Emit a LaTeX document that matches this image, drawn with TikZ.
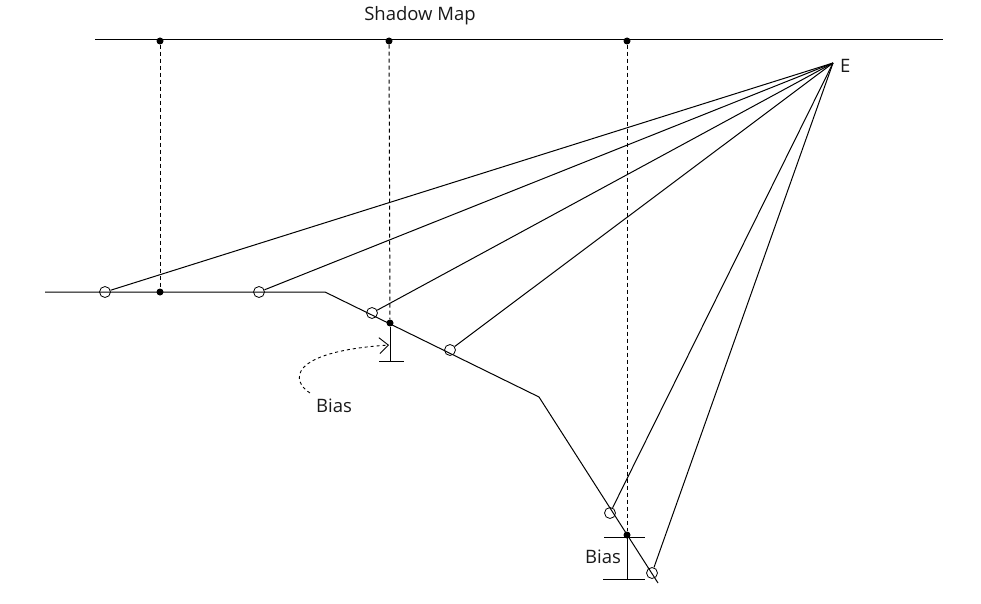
\documentclass[tikz,border=0pt]{standalone}
\usepackage{fontspec}
\setmainfont{Open Sans}
\usetikzlibrary{arrows.meta}
\begin{document}
\begin{tikzpicture}[x=1pt,y=-1pt,
  ln/.style={line width=1pt,black},
  dsh/.style={line width=1pt,black,dash pattern=on 4pt off 3pt},
  hole/.style={circle,draw,black,line width=0.8pt,minimum size=11pt,inner sep=0pt},
  dot/.style={circle,fill=black,minimum size=7pt,inner sep=0pt},
  lbl/.style={font=\fontsize{18.5}{20}\selectfont,text=black!90,inner sep=0pt}]
\useasboundingbox (0,0) rectangle (981,604);
% shadow map line
\coordinate (mapL) at (95,40);
\coordinate (mapR) at (943,40);
\draw[ln] (mapL) -- (mapR);
\node[lbl] (title) at (420,16) {Shadow Map};
\node[dot] (m1) at (160,41) {};
\node[dot] (m2) at (389,41) {};
\node[dot] (m3) at (627,41) {};
% eye
\coordinate (E) at (833,63);
\node[lbl,anchor=west] (Elbl) at (840,66) {E};
% surface
\coordinate (s0) at (45,292);
\coordinate (s1) at (325,292);
\coordinate (s2) at (539,397);
\coordinate (s3) at (658,583);
\draw[ln] (s0) -- (s1) -- (s2) -- (s3);
% sample points
\node[hole] (c1) at (105,292) {};
\node[hole] (c2) at (259,292) {};
\node[hole] (c3) at (372,313) {};
\node[hole] (c4) at (450,350) {};
\node[hole] (c5) at (610,513) {};
\node[hole] (c6) at (652,573) {};
\node[dot] (d1) at (160,292) {};
\node[dot] (d2) at (390,323) {};
\node[dot] (d3) at (627,535) {};
% rays from E
\foreach \c in {c1,c2,c3,c4,c5,c6} \draw[ln] (E) -- (\c);
% projections
\draw[dsh] (m1) -- (d1);
\draw[dsh] (m2) -- (d2);
\draw[dsh] (m3) -- (d3);
% bias 1
\coordinate (b1t) at (390,361);
\coordinate (b1l) at (379,361);
\coordinate (b1r) at (404,361);
\draw[ln] (d2) -- (b1t);
\draw[ln] (b1l) -- (b1r);
\node[lbl] (bias1) at (334,406) {Bias};
\coordinate (arrTip) at (389,345);
\draw[line width=0.9pt,black,dash pattern=on 3pt off 3pt,-{Straight Barb[length=9pt,width=16pt,line width=0.9pt]}]
  (bias1.north west) ++(-6,-6) .. controls (292,382) and (285,352) .. (arrTip);
% bias 2
\coordinate (b2t) at (627,537);
\coordinate (b2b) at (627,579);
\coordinate (b2tl) at (604,537);
\coordinate (b2tr) at (645,537);
\coordinate (b2bl) at (603,579);
\coordinate (b2br) at (645,579);
\draw[ln] (b2t) -- (b2b);
\draw[ln] (b2tl) -- (b2tr);
\draw[ln] (b2bl) -- (b2br);
\node[lbl] (bias2) at (603,557) {Bias};
\end{tikzpicture}
\end{document}
